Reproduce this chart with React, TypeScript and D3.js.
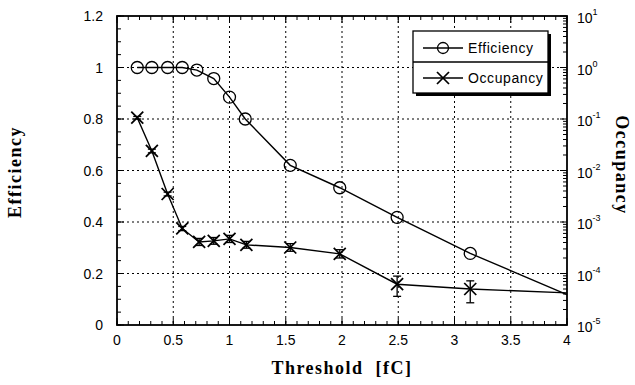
import React from 'react';
import * as d3 from 'd3';

const effThreshold = [0.18, 0.31, 0.45, 0.58, 0.71, 0.86, 1.0, 1.14, 1.54, 1.98, 2.49, 3.14, 4.0];
const efficiency = [1.0, 1.0, 1.0, 1.0, 0.99, 0.957, 0.885, 0.8, 0.62, 0.533, 0.418, 0.278, 0.118];

const occThreshold = [0.18, 0.31, 0.45, 0.58, 0.73, 0.86, 1.0, 1.15, 1.54, 1.98, 2.49, 3.14, 4.0];
const occupancy = [0.106, 0.024, 0.0035, 7.5e-4, 4.1e-4, 4.3e-4, 4.7e-4, 3.6e-4, 3.2e-4, 2.4e-4, 6.2e-5, 5.0e-5, 4.2e-5];
const occLow = [0.1, 0.022, 0.0032, 6.8e-4, 3.5e-4, 3.7e-4, 4.0e-4, 3.1e-4, 2.7e-4, 2.0e-4, 3.6e-5, 2.7e-5, 4.2e-5];
const occHigh = [0.112, 0.026, 0.0038, 8.2e-4, 4.8e-4, 5.0e-4, 5.5e-4, 4.2e-4, 3.8e-4, 2.9e-4, 8.9e-5, 7.2e-5, 4.2e-5];

const xTicks = [0, 0.5, 1, 1.5, 2, 2.5, 3, 3.5, 4];
const xTickLabels = ['0', '0.5', '1', '1.5', '2', '2.5', '3', '3.5', '4'];
const yTicks = [0, 0.2, 0.4, 0.6, 0.8, 1.0, 1.2];
const yTickLabels = ['0', '0.2', '0.4', '0.6', '0.8', '1', '1.2'];
const logExponents = [-5, -4, -3, -2, -1, 0, 1];

const legendLabels = ['Efficiency', 'Occupancy'];

const SANS = '"Liberation Sans", Arial, Helvetica, sans-serif';
const SERIF = '"Liberation Serif", "Times New Roman", serif';

function Circle({ cx, cy, r }: { cx: number; cy: number; r: number }) {
  return <circle cx={cx} cy={cy} r={r} fill="none" stroke="black" strokeWidth={1.3} />;
}

function Cross({ cx, cy, s }: { cx: number; cy: number; s: number }) {
  return (
    <g stroke="black" strokeWidth={1.7}>
      <line x1={cx - s} y1={cy - s} x2={cx + s} y2={cy + s} />
      <line x1={cx - s} y1={cy + s} x2={cx + s} y2={cy - s} />
    </g>
  );
}

export default function App() {
  const W = 635;
  const H = 385;
  const left = 117, right = 567, top = 16, bottom = 325;
  const x = d3.scaleLinear().domain([0, 4]).range([left, right]);
  const yL = d3.scaleLinear().domain([0, 1.2]).range([bottom, top]);
  const yR = d3.scaleLog().domain([1e-5, 10]).range([bottom, top]);

  const xMinor = d3.range(0, 4.0001, 0.1);
  const yMinor = d3.range(0, 1.2001, 0.05);
  const logMinor: number[] = [];
  for (let e = -5; e < 1; e++) for (let m = 2; m <= 9; m++) logMinor.push(m * Math.pow(10, e));

  const effLine = d3.line<number>().x((_, i) => x(effThreshold[i])).y((d) => yL(d));
  const occLine = d3.line<number>().x((_, i) => x(occThreshold[i])).y((d) => yR(d));

  const lastIdx = effThreshold.length - 1;

  const lgX = 413, lgY = 31, lgW = 135, lgH = 62;

  return (
    <div style={{ position: 'fixed', left: 0, top: 0, width: W, height: H, background: 'white' }}>
      <svg width={W} height={H} viewBox={`0 0 ${W} ${H}`} style={{ display: 'block' }}>
        <rect x={0} y={0} width={W} height={H} fill="white" />
        {/* grid */}
        <g stroke="black" strokeWidth={1} strokeDasharray="2,3">
          {xTicks.slice(1, -1).map((t) => (
            <line key={'gx' + t} x1={x(t)} x2={x(t)} y1={top} y2={bottom} />
          ))}
          {yTicks.slice(1, -1).map((t) => (
            <line key={'gy' + t} x1={left} x2={right} y1={yL(t)} y2={yL(t)} />
          ))}
        </g>
        {/* ticks */}
        <g stroke="black" strokeWidth={1}>
          {xMinor.map((t, i) => (
            <g key={'xm' + i}>
              <line x1={x(t)} x2={x(t)} y1={bottom} y2={bottom - 4} />
              <line x1={x(t)} x2={x(t)} y1={top} y2={top + 4} />
            </g>
          ))}
          {xTicks.map((t) => (
            <g key={'xM' + t}>
              <line x1={x(t)} x2={x(t)} y1={bottom} y2={bottom - 7} />
              <line x1={x(t)} x2={x(t)} y1={top} y2={top + 7} />
            </g>
          ))}
          {yMinor.map((t, i) => (
            <line key={'ym' + i} x1={left} x2={left + 4} y1={yL(t)} y2={yL(t)} />
          ))}
          {yTicks.map((t) => (
            <line key={'yM' + t} x1={left} x2={left + 7} y1={yL(t)} y2={yL(t)} />
          ))}
          {logMinor.map((v, i) => (
            <line key={'lm' + i} x1={right} x2={right - 4} y1={yR(v)} y2={yR(v)} />
          ))}
          {logExponents.map((e) => (
            <line key={'lM' + e} x1={right} x2={right - 7} y1={yR(Math.pow(10, e))} y2={yR(Math.pow(10, e))} />
          ))}
        </g>
        {/* frame */}
        <rect x={left} y={top} width={right - left} height={bottom - top} fill="none" stroke="black" strokeWidth={1.8} />

        {/* series lines */}
        <path d={effLine(efficiency) || ''} fill="none" stroke="black" strokeWidth={1.4} />
        <path d={occLine(occupancy) || ''} fill="none" stroke="black" strokeWidth={1.4} />

        {/* error bars */}
        <g stroke="black" strokeWidth={1.3}>
          {occupancy.map((v, i) =>
            i < lastIdx ? (
              <g key={'eb' + i}>
                <line x1={x(occThreshold[i])} x2={x(occThreshold[i])} y1={yR(occLow[i])} y2={yR(occHigh[i])} />
                <line x1={x(occThreshold[i]) - 4} x2={x(occThreshold[i]) + 4} y1={yR(occLow[i])} y2={yR(occLow[i])} />
                <line x1={x(occThreshold[i]) - 4} x2={x(occThreshold[i]) + 4} y1={yR(occHigh[i])} y2={yR(occHigh[i])} />
              </g>
            ) : null
          )}
        </g>

        {/* markers */}
        {efficiency.map((v, i) =>
          i < lastIdx ? <Circle key={'em' + i} cx={x(effThreshold[i])} cy={yL(v)} r={6} /> : null
        )}
        {occupancy.map((v, i) =>
          i < lastIdx ? <Cross key={'om' + i} cx={x(occThreshold[i])} cy={yR(v)} s={6} /> : null
        )}

        {/* x tick labels */}
        <g fontFamily={SANS} fontSize={14} textAnchor="middle">
          {xTicks.map((t, i) => (
            <text key={'xl' + t} x={x(t)} y={345}>{xTickLabels[i]}</text>
          ))}
        </g>
        {/* left tick labels */}
        <g fontFamily={SANS} fontSize={14} textAnchor="end">
          {yTicks.map((t, i) => (
            <text key={'yl' + t} x={103} y={yL(t) + 5}>{yTickLabels[i]}</text>
          ))}
        </g>
        {/* right tick labels */}
        <g fontFamily={SANS} fontSize={14}>
          {logExponents.map((e) => (
            <text key={'rl' + e} x={577} y={yR(Math.pow(10, e)) + 7}>
              10<tspan fontSize={9} dy={-8}>{e}</tspan>
            </text>
          ))}
        </g>

        {/* axis titles */}
        <text x={342} y={374} fontFamily={SERIF} fontWeight="bold" fontSize={18} letterSpacing={1.5} textAnchor="middle" style={{ whiteSpace: 'pre' }}>
          {'Threshold  [fC]'}
        </text>
        <text transform="translate(21,172) rotate(-90)" fontFamily={SERIF} fontWeight="bold" fontSize={18} letterSpacing={1.5} textAnchor="middle">
          Efficiency
        </text>
        <text transform="translate(616,165) rotate(90)" fontFamily={SERIF} fontWeight="bold" fontSize={18} letterSpacing={1.5} textAnchor="middle">
          Occupancy
        </text>

        {/* legend */}
        <rect x={lgX + 3} y={lgY + 3} width={lgW} height={lgH} fill="black" />
        <rect x={lgX} y={lgY} width={lgW} height={lgH} fill="white" stroke="black" strokeWidth={1.3} />
        <line x1={lgX} x2={lgX + lgW} y1={lgY + 31} y2={lgY + 31} stroke="black" strokeWidth={1.3} />
        <line x1={lgX + 10} x2={lgX + 50} y1={lgY + 17} y2={lgY + 17} stroke="black" strokeWidth={1.3} />
        <Circle cx={lgX + 30} cy={lgY + 17} r={5.5} />
        <line x1={lgX + 10} x2={lgX + 50} y1={lgY + 47} y2={lgY + 47} stroke="black" strokeWidth={1.3} />
        <Cross cx={lgX + 30} cy={lgY + 47} s={6} />
        <g fontFamily={SANS} fontSize={14} letterSpacing={0.6}>
          <text x={lgX + 55} y={lgY + 22}>{legendLabels[0]}</text>
          <text x={lgX + 55} y={lgY + 52}>{legendLabels[1]}</text>
        </g>
      </svg>
    </div>
  );
}
